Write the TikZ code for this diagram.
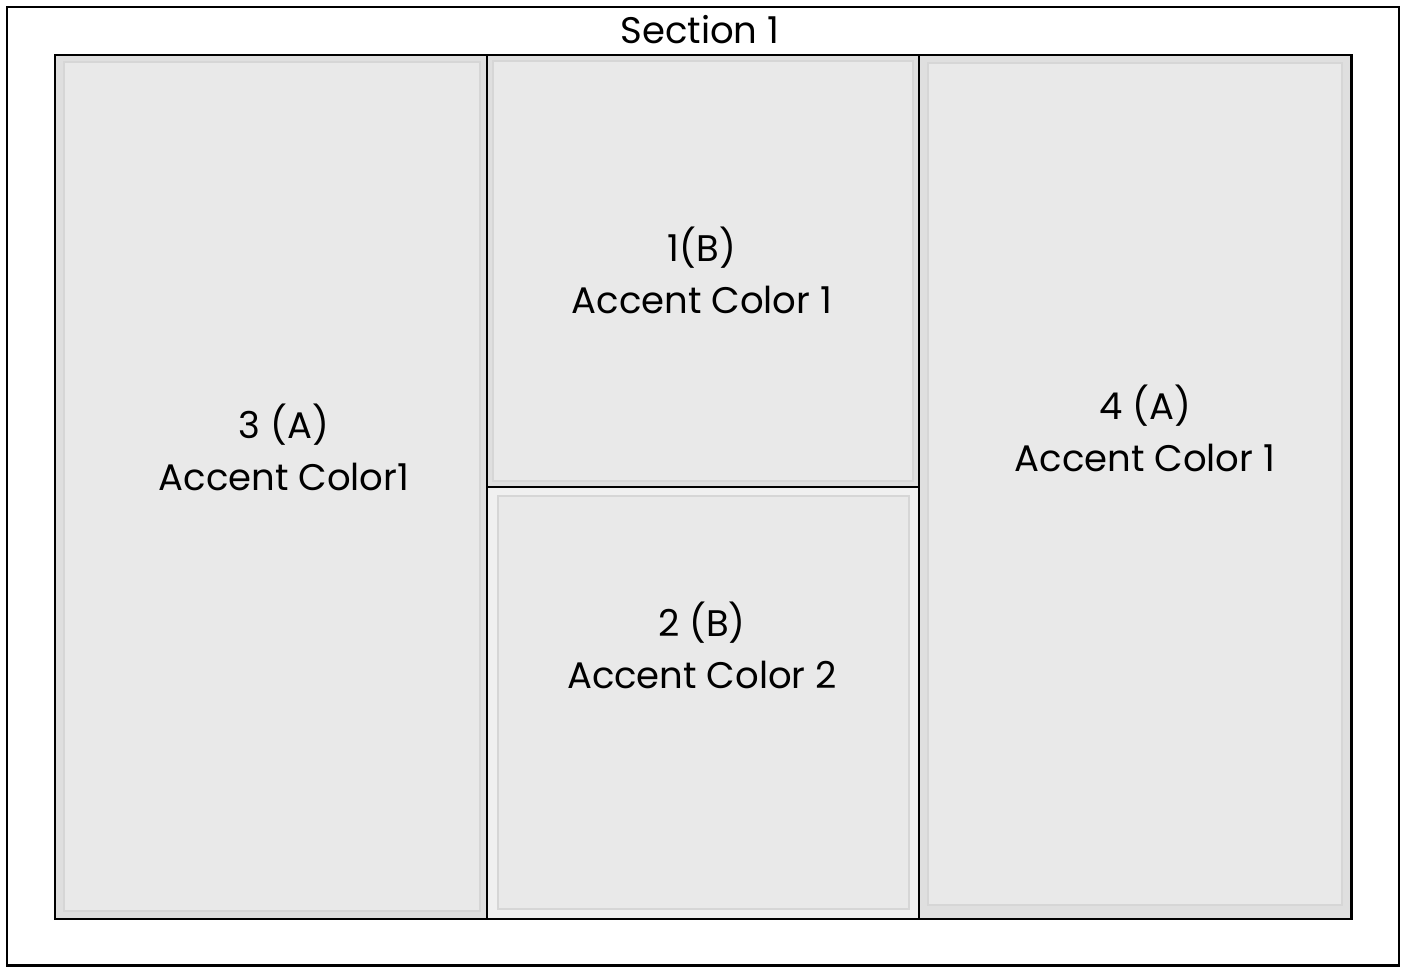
\documentclass[tikz,border=0pt]{standalone}
\usepackage{fontspec}
\setmainfont{Poppins}
\definecolor{cellout}{HTML}{DFDFDF}
\definecolor{cellin}{HTML}{E9E9E9}
\definecolor{cellline}{HTML}{D6D6D6}
\definecolor{celllight}{HTML}{F0F0F0}
\tikzset{
  frame/.style={draw=black, line width=2.5pt},
  divider/.style={draw=black, line width=2.6pt},
  outerfill/.style={fill=cellout},
  innerbox/.style={fill=cellin, draw=cellline, line width=2.5pt},
  label/.style={font=\fontsize{37}{52}\selectfont, align=center, text=black, inner sep=0pt},
}
\begin{document}
\begin{tikzpicture}[x=1pt,y=-1pt]
\useasboundingbox (0,0) rectangle (1410,967);
\fill[white] (0,0) rectangle (1410,967);
% outer frame
\draw[frame] (7,7) rectangle (1399,965.5);
% cell 3 (left)
\fill[outerfill] (55,55) rectangle (487,919);
\filldraw[innerbox] (64,62) rectangle (480,911);
% cell 1 (top middle)
\fill[outerfill] (487,55) rectangle (919,487);
\filldraw[innerbox] (493,61) rectangle (913,481);
% cell 2 (bottom middle)
\fill[celllight] (487,487) rectangle (919,919);
\filldraw[innerbox] (498,496) rectangle (909,909);
% cell 4 (right)
\fill[outerfill] (919,55) rectangle (1351,919);
\filldraw[innerbox] (928,63) rectangle (1342,905);
% lines
\draw[divider] (55,55) rectangle (1351.5,919);
\draw[divider] (487,55) -- (487,919);
\draw[divider] (919,55) -- (919,919);
\draw[divider] (487,487) -- (919,487);
% texts
\node[label] (sec) at (700,30) {Section 1};
\node[label] (c3) at (284,447) {3 (A)\\Accent Color1};
\node[label] (c1) at (702,270) {1(B)\\Accent Color 1};
\node[label] (c4) at (1145,428) {4 (A)\\Accent Color 1};
\node[label] (c2) at (702,645) {2 (B)\\Accent Color 2};
\end{tikzpicture}
\end{document}
